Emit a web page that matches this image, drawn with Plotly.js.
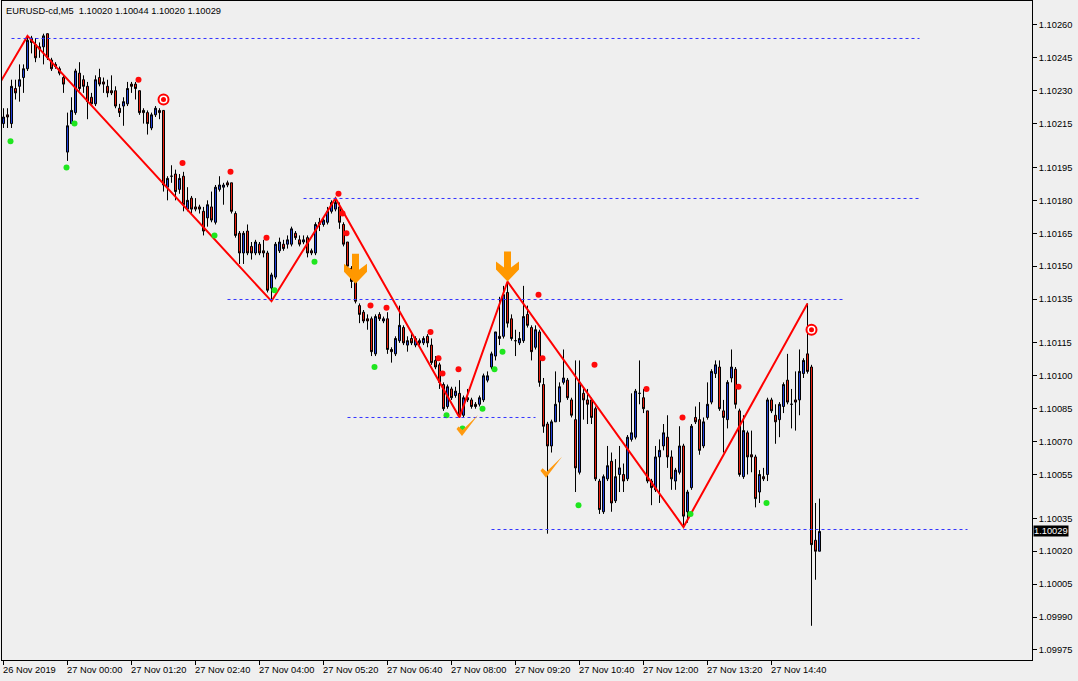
<!DOCTYPE html>
<html><head><meta charset="utf-8">
<script src="https://cdn.plot.ly/plotly-3.0.1.min.js"></script>
<style>html,body{margin:0;padding:0;background:#efefef;}#chart{width:1078px;height:681px;}</style>
</head><body><div id="chart"></div>
<script>
const symbolTitle = "EURUSD-cd,M5\u00a0\u00a01.10020 1.10044 1.10020 1.10029";
const lastPrice = 1.10029;

const open = [
1.10215,1.10219,1.10215,1.10231,1.10232,1.10236,1.10240,1.10254,1.10251,1.10250,
1.10250,1.10256,1.10244,1.10242,1.10240,1.10236,1.10202,1.10215,1.10220,1.10238,
1.10235,1.10232,1.10227,1.10224,1.10236,1.10234,1.10232,1.10230,1.10230,1.10222,
1.10223,1.10224,1.10233,1.10233,1.10230,1.10221,1.10220,1.10213,1.10219,1.10221,
1.10221,1.10186,1.10191,1.10192,1.10185,1.10191,1.10176,1.10181,1.10177,1.10177,
1.10175,1.10172,1.10177,1.10170,1.10185,1.10186,1.10188,1.10188,1.10174,1.10165,
1.10156,1.10166,1.10159,1.10156,1.10160,1.10157,1.10156,1.10140,1.10145,1.10157,
1.10160,1.10160,1.10160,1.10165,1.10162,1.10161,1.10163,1.10157,1.10156,1.10169,
1.10169,1.10170,1.10175,1.10176,1.10177,1.10169,1.10161,1.10149,1.10143,1.10132,
1.10129,1.10126,1.10126,1.10110,1.10128,1.10125,1.10126,1.10112,1.10110,1.10116,
1.10122,1.10114,1.10117,1.10114,1.10116,1.10115,1.10118,1.10114,1.10107,1.10105,
1.10096,1.10086,1.10094,1.10091,1.10092,1.10082,1.10090,1.10089,1.10087,1.10087,
1.10089,1.10098,1.10104,1.10109,1.10118,1.10118,1.10138,1.10126,1.10116,1.10115,
1.10116,1.10128,1.10122,1.10113,1.10120,1.10096,1.10078,1.10068,1.10079,1.10088,
1.10097,1.10098,1.10089,1.10080,1.10056,1.10092,1.10089,1.10089,1.10085,1.10052,
1.10038,1.10053,1.10061,1.10043,1.10055,1.10055,1.10053,1.10071,1.10072,1.10092,
1.10090,1.10084,1.10052,1.10048,1.10063,1.10068,1.10072,1.10063,1.10052,1.10056,
1.10068,1.10038,1.10049,1.10081,1.10080,1.10068,1.10081,1.10088,1.10101,1.10104,
1.10084,1.10080,1.10099,1.10103,1.10084,1.10054,1.10074,1.10064,1.10063,1.10047,
1.10054,1.10055,1.10089,1.10082,1.10080,1.10086,1.10098,1.10087,1.10089,1.10089,
1.10101,1.10110,1.10104,1.10025,1.10020];

const high = [
1.10222,1.10222,1.10235,1.10235,1.10242,1.10242,1.10255,1.10255,1.10254,1.10252,
1.10256,1.10256,1.10245,1.10243,1.10241,1.10237,1.10220,1.10227,1.10240,1.10243,
1.10237,1.10234,1.10229,1.10237,1.10240,1.10236,1.10235,1.10237,1.10232,1.10224,
1.10227,1.10234,1.10234,1.10234,1.10230,1.10222,1.10221,1.10220,1.10223,1.10222,
1.10221,1.10191,1.10196,1.10194,1.10192,1.10193,1.10186,1.10182,1.10181,1.10178,
1.10177,1.10180,1.10184,1.10187,1.10191,1.10188,1.10189,1.10188,1.10175,1.10166,
1.10166,1.10169,1.10161,1.10162,1.10161,1.10162,1.10157,1.10147,1.10161,1.10163,
1.10162,1.10164,1.10168,1.10166,1.10164,1.10164,1.10164,1.10158,1.10170,1.10172,
1.10172,1.10177,1.10180,1.10181,1.10179,1.10170,1.10161,1.10150,1.10144,1.10133,
1.10130,1.10128,1.10127,1.10128,1.10129,1.10127,1.10129,1.10113,1.10118,1.10132,
1.10123,1.10118,1.10119,1.10118,1.10117,1.10118,1.10119,1.10117,1.10109,1.10106,
1.10097,1.10096,1.10095,1.10095,1.10098,1.10091,1.10094,1.10090,1.10088,1.10091,
1.10101,1.10102,1.10111,1.10120,1.10136,1.10141,1.10143,1.10128,1.10121,1.10120,
1.10141,1.10132,1.10123,1.10123,1.10121,1.10099,1.10079,1.10080,1.10102,1.10097,
1.10112,1.10099,1.10090,1.10107,1.10107,1.10094,1.10094,1.10090,1.10086,1.10053,
1.10055,1.10068,1.10065,1.10062,1.10068,1.10060,1.10073,1.10092,1.10094,1.10107,
1.10094,1.10084,1.10053,1.10068,1.10071,1.10078,1.10082,1.10066,1.10058,1.10077,
1.10069,1.10048,1.10078,1.10086,1.10088,1.10081,1.10097,1.10103,1.10107,1.10107,
1.10089,1.10098,1.10112,1.10104,1.10085,1.10082,1.10075,1.10075,1.10064,1.10057,
1.10058,1.10090,1.10090,1.10087,1.10088,1.10097,1.10110,1.10094,1.10102,1.10112,
1.10108,1.10133,1.10105,1.10042,1.10044];

const low = [
1.10213,1.10213,1.10213,1.10226,1.10225,1.10229,1.10239,1.10247,1.10243,1.10245,
1.10242,1.10244,1.10239,1.10240,1.10237,1.10229,1.10198,1.10215,1.10219,1.10230,
1.10229,1.10217,1.10223,1.10223,1.10232,1.10229,1.10227,1.10228,1.10222,1.10218,
1.10214,1.10223,1.10229,1.10226,1.10219,1.10215,1.10210,1.10212,1.10218,1.10217,
1.10184,1.10180,1.10188,1.10180,1.10183,1.10175,1.10175,1.10174,1.10175,1.10174,
1.10164,1.10168,1.10170,1.10169,1.10184,1.10178,1.10186,1.10174,1.10163,1.10151,
1.10151,1.10155,1.10153,1.10155,1.10155,1.10154,1.10138,1.10134,1.10144,1.10156,
1.10157,1.10158,1.10159,1.10162,1.10159,1.10160,1.10154,1.10155,1.10155,1.10166,
1.10168,1.10169,1.10174,1.10175,1.10167,1.10159,1.10149,1.10140,1.10133,1.10124,
1.10124,1.10121,1.10109,1.10109,1.10125,1.10124,1.10110,1.10106,1.10109,1.10115,
1.10114,1.10111,1.10114,1.10113,1.10114,1.10114,1.10113,1.10105,1.10103,1.10094,
1.10084,1.10085,1.10089,1.10090,1.10081,1.10081,1.10088,1.10085,1.10085,1.10086,
1.10088,1.10097,1.10103,1.10107,1.10114,1.10117,1.10122,1.10116,1.10109,1.10114,
1.10115,1.10122,1.10107,1.10112,1.10095,1.10074,1.10028,1.10065,1.10079,1.10079,
1.10096,1.10089,1.10081,1.10047,1.10055,1.10080,1.10078,1.10078,1.10052,1.10037,
1.10037,1.10052,1.10038,1.10042,1.10047,1.10047,1.10052,1.10070,1.10071,1.10087,
1.10083,1.10051,1.10041,1.10047,1.10042,1.10066,1.10058,1.10048,1.10048,1.10055,
1.10031,1.10033,1.10048,1.10078,1.10064,1.10067,1.10080,1.10087,1.10099,1.10084,
1.10065,1.10076,1.10097,1.10085,1.10054,1.10053,1.10055,1.10056,1.10040,1.10042,
1.10052,1.10052,1.10083,1.10069,1.10072,1.10083,1.10087,1.10076,1.10075,1.10082,
1.10099,1.10101,1.09986,1.10007,1.10020];

const close = [
1.10218,1.10218,1.10232,1.10229,1.10235,1.10240,1.10253,1.10252,1.10245,1.10249,
1.10255,1.10245,1.10240,1.10241,1.10238,1.10233,1.10214,1.10221,1.10239,1.10231,
1.10232,1.10225,1.10224,1.10235,1.10233,1.10233,1.10229,1.10229,1.10223,1.10220,
1.10225,1.10231,1.10232,1.10231,1.10220,1.10220,1.10215,1.10219,1.10222,1.10220,
1.10187,1.10190,1.10191,1.10184,1.10190,1.10178,1.10180,1.10176,1.10176,1.10176,
1.10166,1.10178,1.10171,1.10186,1.10187,1.10187,1.10187,1.10175,1.10164,1.10156,
1.10165,1.10156,1.10156,1.10161,1.10156,1.10156,1.10139,1.10146,1.10160,1.10161,
1.10158,1.10162,1.10167,1.10163,1.10160,1.10162,1.10156,1.10156,1.10169,1.10170,
1.10171,1.10175,1.10179,1.10179,1.10170,1.10160,1.10150,1.10143,1.10134,1.10128,
1.10125,1.10125,1.10111,1.10127,1.10126,1.10126,1.10112,1.10111,1.10117,1.10123,
1.10115,1.10116,1.10115,1.10117,1.10115,1.10117,1.10115,1.10106,1.10104,1.10097,
1.10085,1.10095,1.10090,1.10093,1.10082,1.10090,1.10089,1.10086,1.10086,1.10090,
1.10100,1.10100,1.10110,1.10120,1.10117,1.10137,1.10124,1.10117,1.10116,1.10117,
1.10127,1.10123,1.10111,1.10121,1.10097,1.10077,1.10068,1.10079,1.10087,1.10095,
1.10099,1.10090,1.10082,1.10058,1.10097,1.10089,1.10087,1.10081,1.10053,1.10039,
1.10054,1.10059,1.10042,1.10054,1.10058,1.10052,1.10072,1.10074,1.10093,1.10092,
1.10085,1.10052,1.10049,1.10063,1.10066,1.10074,1.10063,1.10053,1.10057,1.10068,
1.10036,1.10047,1.10077,1.10079,1.10066,1.10079,1.10087,1.10102,1.10105,1.10085,
1.10081,1.10097,1.10104,1.10087,1.10055,1.10075,1.10063,1.10063,1.10044,1.10055,
1.10053,1.10089,1.10084,1.10079,1.10087,1.10096,1.10088,1.10087,1.10088,1.10102,
1.10107,1.10102,1.10023,1.10020,1.10029];

const timeTickIndex = [0,16,32,48,64,80,96,112,128,144,160,176,192];
const timeTickLabels = ["26 Nov 2019","27 Nov 00:00","27 Nov 01:20","27 Nov 02:40","27 Nov 04:00",
  "27 Nov 05:20","27 Nov 06:40","27 Nov 08:00","27 Nov 09:20","27 Nov 10:40","27 Nov 12:00",
  "27 Nov 13:20","27 Nov 14:40"];
const priceTicks = [1.10260,1.10245,1.10230,1.10215,1.10195,1.10180,1.10165,1.10150,1.10135,
  1.10115,1.10100,1.10085,1.10070,1.10055,1.10035,1.10020,1.10005,1.09990,1.09975];

const zigzagIndex = [-3,6,67,83,114,126,170,201];
const zigzagPrice = [1.10227,1.10255,1.10134,1.10181,1.10081,1.10143,1.10031,1.10133];

const redDotIndex = [34,45,57,66,84,85,86,92,96,107,109,110,114,134,135,148,161,170,184];
const redDotPrice = [1.10235,1.10197,1.10193,1.10163,1.10183,1.10174,1.10165,1.10132,1.10131,
  1.10120,1.10108,1.10101,1.10103,1.10137,1.10108,1.10105,1.10094,1.10081,1.10095];
const greenDotIndex = [2,16,18,53,68,78,93,111,115,120,123,125,144,172,191];
const greenDotPrice = [1.10207,1.10195,1.10215,1.10164,1.10139,1.10152,1.10104,1.10082,1.10076,
  1.10085,1.10103,1.10111,1.10041,1.10037,1.10042];
const targetIndex = [40,202];
const targetPrice = [1.10226,1.10121];
const arrowIndex = [88,126];
const arrowPrice = [1.10142,1.10143];
const checkIndex = [115,136];
const checkPrice = [1.10073,1.10054];
const levelPrice = [1.10254,1.10181,1.10135,1.10081,1.10030];
const levelFrom = [2,75,56,86,122];
const levelTo = [229,229,210,133,241];

const barIndex = open.map((_, i) => i);
const dotShift = -0.25;
const FONT = 'Liberation Sans, Arial, sans-serif';

// plot geometry (style)
const M = {l:2, r:46, t:1, b:21};
const W = 1078, H = 681;
const Y_RANGE = [1.099704, 1.102709];
const plotH = H - M.t - M.b;
function snapOffset(p) {           // pixel offset to land a 1px line on a pixel row
  const py = M.t + (Y_RANGE[1] - p) / (Y_RANGE[1] - Y_RANGE[0]) * plotH;
  return py - (Math.floor(py) + 0.5);
}

const traces = [
  {type:'candlestick', x:barIndex, open:open, high:high, low:low, close:close,
   increasing:{line:{color:'#000000', width:1}, fillcolor:'#2040d8'},
   decreasing:{line:{color:'#000000', width:1}, fillcolor:'#e82010'},
   whiskerwidth:0, hoverinfo:'skip', showlegend:false},
  {type:'scatter', mode:'lines', x:zigzagIndex, y:zigzagPrice,
   line:{color:'#ff0000', width:2}, hoverinfo:'skip', showlegend:false},
  {type:'scatter', mode:'markers', x:redDotIndex.map(i => i + dotShift), y:redDotPrice,
   marker:{color:'#ff0a0a', size:6, line:{width:0}}, hoverinfo:'skip', showlegend:false},
  {type:'scatter', mode:'markers', x:greenDotIndex.map(i => i + dotShift), y:greenDotPrice,
   marker:{color:'#1ee61e', size:6, line:{width:0}}, hoverinfo:'skip', showlegend:false},
  {type:'scatter', mode:'markers', x:targetIndex, y:targetPrice,
   marker:{color:'#ffffff', size:10, line:{color:'#ff0000', width:2}}, hoverinfo:'skip', showlegend:false},
  {type:'scatter', mode:'markers', x:targetIndex, y:targetPrice,
   marker:{color:'#ff0000', size:5, line:{width:0}}, hoverinfo:'skip', showlegend:false}
];

const shapes = [];
levelPrice.forEach((p, k) => {
  const off = snapOffset(p);
  shapes.push({type:'line', xref:'x', yref:'y', ysizemode:'pixel', yanchor:p,
    x0:levelFrom[k], x1:levelTo[k], y0:off, y1:off, layer:'above',
    line:{color:'#3434ff', width:1, dash:'3px,3px'}});
});
arrowIndex.forEach((ix, k) => shapes.push({type:'path', xref:'x', yref:'y',
  xsizemode:'pixel', ysizemode:'pixel', xanchor:ix, yanchor:arrowPrice[k], layer:'above',
  path:'M0,0 L11.5,12 L11.5,20 L3.5,14 L3.5,30 L-3.5,30 L-3.5,14 L-11.5,20 L-11.5,12 Z',
  fillcolor:'#ff9800', line:{width:0}}));
checkIndex.forEach((ix, k) => shapes.push({type:'path', xref:'x', yref:'y',
  xsizemode:'pixel', ysizemode:'pixel', xanchor:ix, yanchor:checkPrice[k], layer:'above',
  path:'M-7,6 L-1.5,-1 L14.5,20 L-1,5 L-5,8.5 Z',
  fillcolor:'#ff9a10', line:{width:0}}));

const annotations = timeTickIndex.map((ix, k) => ({xref:'x', yref:'paper', x:ix, y:0,
  xanchor:'left', yanchor:'top', xshift:-3, yshift:-3, showarrow:false,
  text:timeTickLabels[k], font:{family:FONT, size:9.3, color:'#000'}}));
annotations.push({xref:'paper', yref:'paper', x:0, y:1, xanchor:'left', yanchor:'top',
  xshift:2, yshift:-3, showarrow:false, text:symbolTitle, font:{family:FONT, size:9.3, color:'#000'}});
annotations.push({xref:'paper', yref:'y', x:1, y:lastPrice, xanchor:'left', yanchor:'middle',
  xshift:1, showarrow:false, text:lastPrice.toFixed(5), bgcolor:'#000000', borderpad:0,
  font:{family:FONT, size:9.3, color:'#ffffff'}});

const layout = {
  width:W, height:H,
  margin:{l:M.l, r:M.r, t:M.t, b:M.b, pad:0},
  paper_bgcolor:'#efefef', plot_bgcolor:'#efefef',
  showlegend:false,
  boxgap:0.5, boxgroupgap:0,
  font:{family:FONT, size:9.3, color:'#000'},
  xaxis:{range:[-0.375, 257.125], showgrid:false, zeroline:false, showline:true, linecolor:'#000',
    linewidth:1, mirror:true, ticks:'outside', ticklen:4, tickcolor:'#000', tickwidth:1,
    tickmode:'array', tickvals:timeTickIndex, showticklabels:false,
    rangeslider:{visible:false}, fixedrange:true},
  yaxis:{range:Y_RANGE, side:'right', showgrid:false, zeroline:false, showline:true,
    linecolor:'#000', linewidth:1, mirror:true, ticks:'outside', ticklen:4, tickcolor:'#000',
    tickwidth:1, tickmode:'array', tickvals:priceTicks, ticktext:priceTicks.map(v => v.toFixed(5)),
    tickfont:{family:FONT, size:9.3, color:'#000'}, fixedrange:true},
  shapes:shapes,
  annotations:annotations
};

Plotly.newPlot('chart', traces, layout, {displayModeBar:false, staticPlot:true});
</script>
</body></html>
